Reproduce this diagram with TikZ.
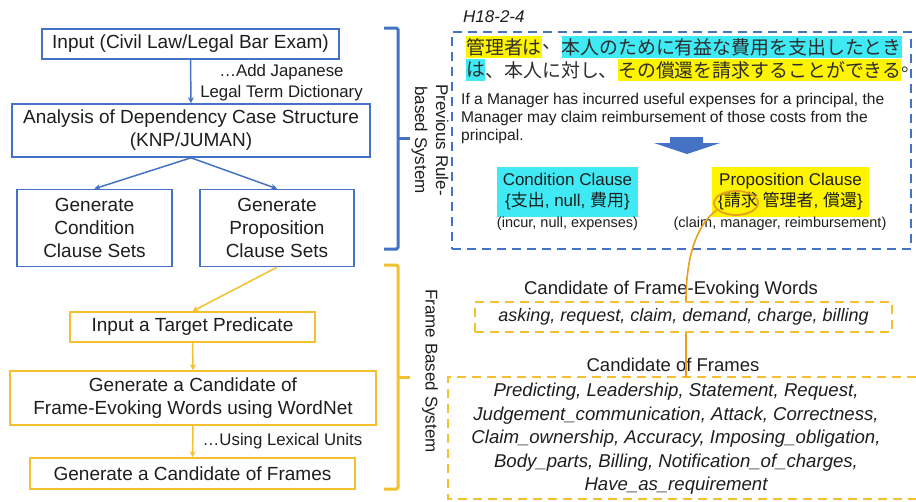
\documentclass[tikz,border=0pt]{standalone}
\usepackage{fontspec}
\setmainfont{Liberation Sans}
\newfontfamily\jp{Noto Sans CJK JP}
\usetikzlibrary{arrows.meta,shapes.geometric}
\definecolor{flowblue}{RGB}{68,114,196}
\definecolor{flowgold}{RGB}{244,192,45}
\definecolor{ringgold}{RGB}{230,160,30}
\definecolor{hlcyan}{RGB}{64,234,244}
\definecolor{hlyellow}{RGB}{255,244,0}
\definecolor{ink}{RGB}{30,30,30}
\definecolor{jpink}{RGB}{45,45,45}
\newcommand\fsz[2]{\fontsize{#1}{#2}\selectfont}

\begin{document}
\begin{tikzpicture}[x=1pt,y=-1pt,
  every node/.style={text=ink, inner sep=0pt},
  stepbox/.style={draw, line width=1.6pt, fill=white, align=center, font=\fsz{19}{23}},
  bluebox/.style={stepbox, draw=flowblue},
  goldbox/.style={stepbox, draw=flowgold},
  bluearrow/.style={draw=flowblue, line width=1.5pt, -{Stealth[length=6pt,width=6pt]}},
  goldarrow/.style={draw=flowgold, line width=1.5pt, -{Stealth[length=6pt,width=6pt]}},
  goldlink/.style={draw=ringgold, line width=1.6pt},
  note/.style={align=center, font=\fsz{16.8}{21}},
  bracket/.style={line width=3pt, rounded corners=1.5pt},
  sidelabel/.style={rotate=-90, align=center, font=\fsz{17}{21}},
  dashbox/.style={line width=2.4pt, dash pattern=on 9pt off 6pt},
  jpseg/.style={anchor=west, text=jpink, font=\jp\fsz{18.9}{22}, minimum height=22pt},
  para/.style={anchor=base west, font=\fsz{15.6}{18}},
  clause/.style={align=center, font=\fsz{17}{21}, minimum height=50pt},
  gloss/.style={font=\fsz{14.5}{18}},
  caption/.style={font=\fsz{18.5}{22}}
]
\useasboundingbox (0,0) rectangle (916,501);

% ---------------- left column: processing steps ----------------
\node[bluebox, minimum width=297pt, minimum height=30pt] (input) at (190.5,44) {Input (Civil Law/Legal Bar Exam)};
\node[bluebox, minimum width=358pt, minimum height=53pt] (dep) at (191,130.5) {Analysis of Dependency Case Structure\\(KNP/JUMAN)};
\node[bluebox, minimum width=155pt, minimum height=77pt] (cond) at (94.5,228) {Generate\\Condition\\Clause Sets};
\node[bluebox, minimum width=154pt, minimum height=77pt] (prop) at (277,228) {Generate\\Proposition\\Clause Sets};
\node[goldbox, minimum width=245pt, minimum height=30pt] (target) at (192.5,327) {Input a Target Predicate};
\node[goldbox, minimum width=366pt, minimum height=54pt] (wordnet) at (193,398) {Generate a Candidate of\\Frame-Evoking Words using WordNet};
\node[goldbox, minimum width=325pt, minimum height=31pt] (cframes) at (192.5,473.5) {Generate a Candidate of Frames};

\node[note] (dict) at (281.5,82.5) {…Add Japanese\\Legal Term Dictionary};
\node[note] (lex) at (282.5,441) {…Using Lexical Units};

\draw[bluearrow] (input.south) -- (dep.north);
\draw[bluearrow] (dep.south) -- (cond.north);
\draw[bluearrow] (dep.south) -- (prop.north);
\draw[goldarrow] (prop.south) -- (target.north);
\draw[goldarrow] (target.south) -- (wordnet.north);
\draw[goldarrow] (wordnet.south) -- (cframes.north);

% ---------------- brackets with system labels ----------------
\draw[bracket, flowblue] (384,28) -- (398,28) -- (398,249) -- (384,249);
\draw[bracket, flowblue] (398,138) -- (410,138);
\draw[bracket, flowgold] (384,265) -- (398,265) -- (398,489) -- (384,489);
\draw[bracket, flowgold] (398,377) -- (410,377);
\node[sidelabel] (prevlbl) at (430,140) {Previous Rule-\\based System};
\node[sidelabel] (framelbl) at (430,371) {Frame Based System};

% ---------------- right: rule-based example ----------------
\node[font=\itshape\fsz{17}{20}, anchor=west] (case) at (463,17) {H18-2-4};
\node[draw=flowblue, dashbox, minimum width=459pt, minimum height=217pt] (prevbox) at (681.5,140.5) {};

\node[jpseg, fill=hlyellow] (j1) at (466,47) {管理者は};
\node[jpseg] (j2) at (j1.east) {、};
\node[jpseg, fill=hlcyan] (j3) at (j2.east) {本人のために有益な費用を支出したとき};
\node[jpseg, fill=hlcyan] (k1) at (466,70) {は};
\node[jpseg] (k2) at (k1.east) {、本人に対し、};
\node[jpseg, fill=hlyellow] (k3) at (k2.east) {その償還を請求することができる};
% the full stop's ink sits in the left part of its cell, so its box is narrowed
\node[jpseg] (k4) at (k3.east) {\makebox[0.5em][l]{。}};

\node[para] (en1) at (461,104.5) {If a Manager has incurred useful expenses for a principal, the};
\node[para] (en2) at (461,122.5) {Manager may claim reimbursement of those costs from the};
\node[para] (en3) at (461,140.5) {principal.};

\fill[flowblue] (670,137) -- (703,137) -- (703,143) -- (720,143) -- (687,154) -- (654,143) -- (670,143) -- cycle;

\node[clause, fill=hlcyan, minimum width=141pt] (condcl) at (567.5,192) {Condition Clause\\\{{\jp 支出}, null, {\jp 費用}\}};
\node[gloss] (condgl) at (567.5,224) {(incur, null, expenses)};
\node[clause, fill=hlyellow, minimum width=157pt] (propcl) at (790.5,192) {Proposition Clause\\\{{\jp 請求} {\jp 管理者}, {\jp 償還}\}};
\node[gloss] (propgl) at (780,224) {(claim, manager, reimbursement)};
\node[ellipse, draw=ringgold, line width=1.8pt, minimum width=44pt, minimum height=24pt] (ring) at (736,203) {};

% ---------------- right: frame-based candidates ----------------
\node[caption] (wordslbl) at (671,290) {Candidate of Frame-Evoking Words};
\node[draw=flowgold, dashbox, minimum width=417pt, minimum height=30pt, font=\itshape\fsz{18}{22}] (words) at (683.5,317) {asking, request, claim, demand, charge, billing};
\node[caption] (frameslbl) at (673,365) {Candidate of Frames};
\coordinate (fb) at (686,377);
\draw[draw=flowgold, dashbox] (916,377) -- (448,377) -- (448,499) -- (916,499);
\node[align=center, font=\itshape\fsz{18.6}{23.5}] (frames) at (676,439) {Predicting, Leadership, Statement, Request,\\Judgement\_communication, Attack, Correctness,\\Claim\_ownership, Accuracy, Imposing\_obligation,\\Body\_parts, Billing, Notification\_of\_charges,\\Have\_as\_requirement};

\draw[goldlink] (ring.200) .. controls (700,222) and (686,250) .. (words.north -| fb);
\draw[goldlink] (words.south -| fb) -- (fb);
\end{tikzpicture}
\end{document}
